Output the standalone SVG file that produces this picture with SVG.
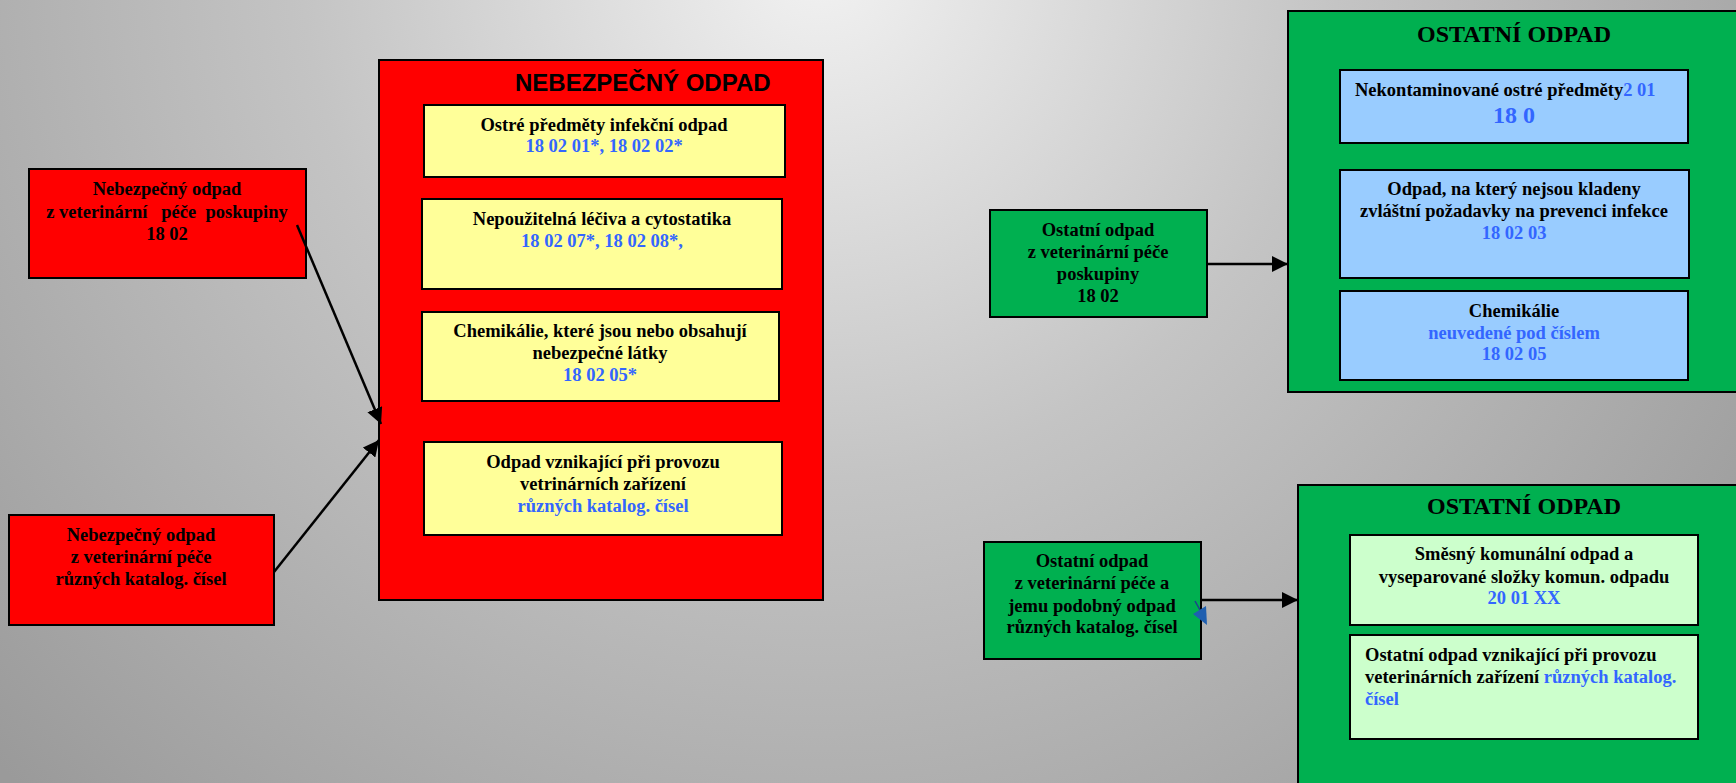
<svg xmlns="http://www.w3.org/2000/svg" width="1736" height="783" viewBox="0 0 1736 783">
<defs>
<radialGradient id="bg" gradientUnits="userSpaceOnUse" cx="820" cy="-40" r="1150">
<stop offset="0" stop-color="#f2f2f2"/>
<stop offset="0.45" stop-color="#c4c4c4"/>
<stop offset="1" stop-color="#9a9a9a"/>
</radialGradient>
<marker id="ah" viewBox="0 0 10 10" refX="10" refY="5" markerWidth="16" markerHeight="16" markerUnits="userSpaceOnUse" orient="auto">
<path d="M0,0 L10,5 L0,10 Z" fill="#000"/>
</marker>
<style>
.bx{stroke:#000;stroke-width:2}
.red{fill:#ff0000}
.yel{fill:#ffff99}
.grn{fill:#00b050}
.lb{fill:#99ccff}
.lg{fill:#ccffcc}
.t{font-family:"Liberation Serif","Times New Roman",serif;font-weight:bold;font-size:18.5px;fill:#000;text-anchor:middle}
.b{fill:#3366ff}
.ttl{font-family:"Liberation Serif","Times New Roman",serif;font-weight:bold;font-size:24px;fill:#000;text-anchor:middle}
.ttla{font-family:"Liberation Sans",Arial,sans-serif;font-weight:bold;font-size:24px;fill:#000;text-anchor:start}
.cn{stroke:#000;stroke-width:2.5;fill:none}
</style>
</defs>
<rect x="0" y="0" width="1736" height="783" fill="url(#bg)"/>

<g id="haz-src-1">
<rect class="bx red" x="29" y="169" width="277" height="109"/>
<text class="t" x="167" y="195" style="white-space:pre"><tspan x="167">Nebezpečný odpad</tspan><tspan x="167" dy="23">z veterinární   péče  poskupiny</tspan><tspan x="167" dy="22">18 02</tspan></text>
</g>

<g id="haz-src-2">
<rect class="bx red" x="9" y="515" width="265" height="110"/>
<text class="t" x="141" y="541"><tspan x="141">Nebezpečný odpad</tspan><tspan x="141" dy="22">z veterinární péče</tspan><tspan x="141" dy="22">různých katalog. čísel</tspan></text>
</g>

<g id="haz-main">
<rect class="bx red" x="379" y="60" width="444" height="540"/>
<text class="ttla" x="515" y="91">NEBEZPEČNÝ ODPAD</text>
</g>

<g id="haz-1">
<rect class="bx yel" x="424" y="105" width="361" height="72"/>
<text class="t" x="604" y="131"><tspan x="604">Ostré předměty infekční odpad</tspan><tspan x="604" dy="21" class="b">18 02 01*, 18 02 02*</tspan></text>
</g>

<g id="haz-2">
<rect class="bx yel" x="422" y="199" width="360" height="90"/>
<text class="t" x="602" y="225"><tspan x="602">Nepoužitelná léčiva a cytostatika</tspan><tspan x="602" dy="22" class="b">18 02 07*, 18 02 08*,</tspan></text>
</g>

<g id="haz-3">
<rect class="bx yel" x="422" y="312" width="357" height="89"/>
<text class="t" x="600" y="337"><tspan x="600">Chemikálie, které jsou nebo obsahují</tspan><tspan x="600" dy="22">nebezpečné látky</tspan><tspan x="600" dy="22" class="b">18 02 05*</tspan></text>
</g>

<g id="haz-4">
<rect class="bx yel" x="424" y="442" width="358" height="93"/>
<text class="t" x="603" y="468"><tspan x="603">Odpad vznikající při provozu</tspan><tspan x="603" dy="22">vetrinárních zařízení</tspan><tspan x="603" dy="22" class="b">různých katalog. čísel</tspan></text>
</g>

<g id="oth-src-1">
<rect class="bx grn" x="990" y="210" width="217" height="107"/>
<text class="t" x="1098" y="236"><tspan x="1098">Ostatní odpad</tspan><tspan x="1098" dy="22">z veterinární péče</tspan><tspan x="1098" dy="22">poskupiny</tspan><tspan x="1098" dy="22">18 02</tspan></text>
</g>

<g id="oth-main-1">
<rect class="bx grn" x="1288" y="11" width="460" height="381"/>
<text class="ttl" x="1514" y="42">OSTATNÍ ODPAD</text>
</g>

<g id="oth-1a">
<rect class="bx lb" x="1340" y="70" width="348" height="73"/>
<text class="t" x="1355" y="96" style="text-anchor:start">Nekontaminované ostré předměty<tspan class="b">2 01</tspan></text>
<text class="t b" x="1514" y="123" style="font-size:24px">18 0</text>
</g>

<g id="oth-1b">
<rect class="bx lb" x="1340" y="170" width="349" height="108"/>
<text class="t" x="1514" y="195"><tspan x="1514">Odpad, na který nejsou kladeny</tspan><tspan x="1514" dy="22">zvláštní požadavky na prevenci infekce</tspan><tspan x="1514" dy="22" class="b">18 02 03</tspan></text>
</g>

<g id="oth-1c">
<rect class="bx lb" x="1340" y="291" width="348" height="89"/>
<text class="t" x="1514" y="317"><tspan x="1514">Chemikálie</tspan><tspan x="1514" dy="22" class="b">neuvedené pod číslem</tspan><tspan x="1514" dy="21" class="b">18 02 05</tspan></text>
</g>

<g id="oth-src-2">
<rect class="bx grn" x="984" y="542" width="217" height="117"/>
<text class="t" x="1092" y="567"><tspan x="1092">Ostatní odpad</tspan><tspan x="1092" dy="22">z veterinární péče a</tspan><tspan x="1092" dy="23">jemu podobný odpad</tspan><tspan x="1092" dy="21">různých katalog. čísel</tspan></text>
</g>

<g id="oth-main-2">
<rect class="bx grn" x="1298" y="485" width="450" height="310"/>
<text class="ttl" x="1524" y="514">OSTATNÍ ODPAD</text>
</g>

<g id="oth-2a">
<rect class="bx lg" x="1350" y="535" width="348" height="90"/>
<text class="t" x="1524" y="560"><tspan x="1524">Směsný komunální odpad a</tspan><tspan x="1524" dy="23">vyseparované složky komun. odpadu</tspan><tspan x="1524" dy="21" class="b">20 01 XX</tspan></text>
</g>

<g id="oth-2b">
<rect class="bx lg" x="1350" y="635" width="348" height="104"/>
<text class="t" x="1365" y="661" style="text-anchor:start"><tspan x="1365">Ostatní odpad vznikající při provozu</tspan><tspan x="1365" dy="22">veterinárních zařízení <tspan class="b">různých katalog.</tspan></tspan><tspan x="1365" dy="22" class="b">čísel</tspan></text>
</g>

<g id="connectors">
<line class="cn" x1="297" y1="225" x2="381" y2="424" marker-end="url(#ah)"/>
<line class="cn" x1="274" y1="572" x2="379" y2="440" marker-end="url(#ah)"/>
<line class="cn" x1="1207" y1="264" x2="1288" y2="264" marker-end="url(#ah)"/>
<line class="cn" x1="1201" y1="600" x2="1298" y2="600" marker-end="url(#ah)"/>
<line x1="1195" y1="601" x2="1200" y2="610" stroke="#1f3f8f" stroke-width="1.5"/>
<polygon points="1193,614 1206,606 1207,625" fill="#1f5fb0"/>
</g>
</svg>
